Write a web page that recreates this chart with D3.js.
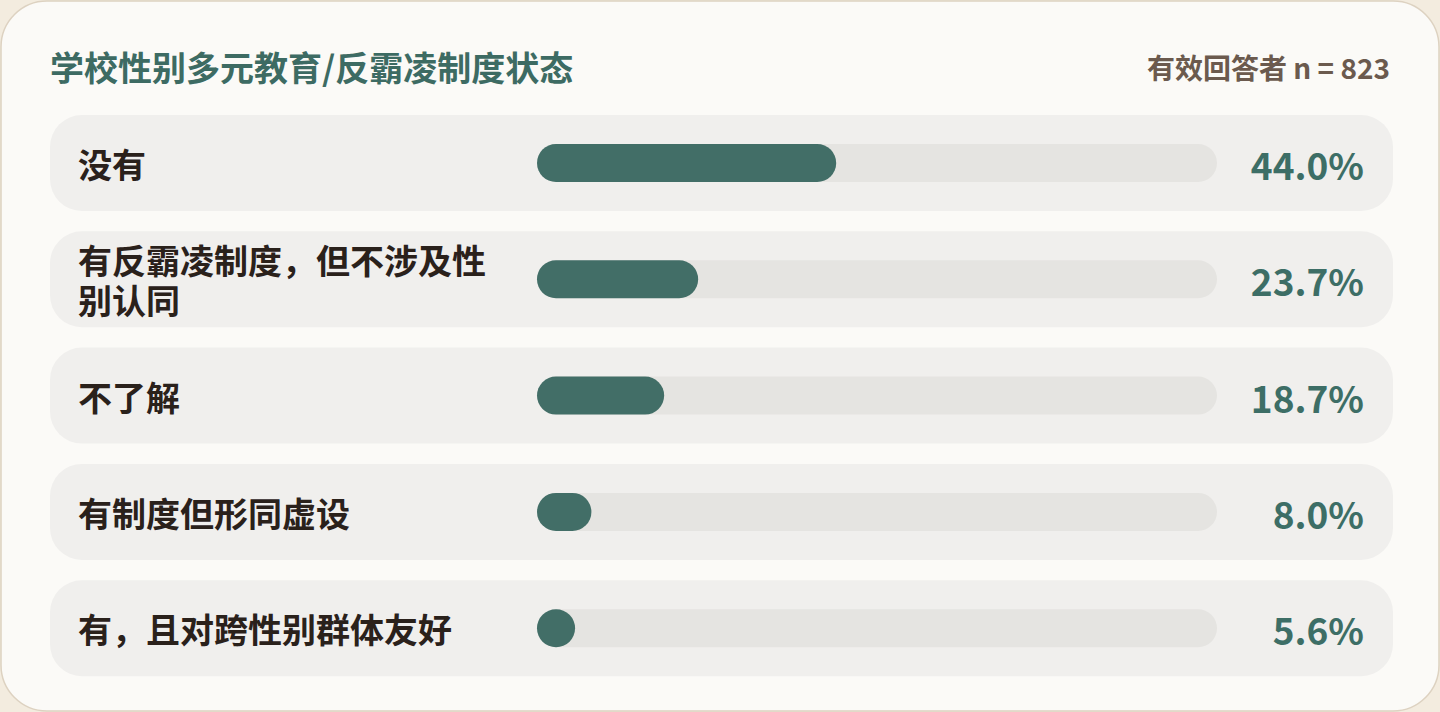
<!DOCTYPE html>
<html>
<head>
<meta charset="utf-8">
<script src="https://cdn.jsdelivr.net/npm/d3@7"></script>
<style>
  html, body { margin: 0; padding: 0; background: #f3ecdf; }
  svg { display: block; }
  text { font-family: "Noto Sans CJK SC", "Noto Sans", sans-serif; font-weight: 700; }
</style>
</head>
<body>
<svg id="chart"></svg>
<script>
// ─── Data ─────────────────────────────────────────────────────────────────────
const title    = '学校性别多元教育/反霸凌制度状态';
const nLabel   = '有效回答者 n = 823';
const cats     = ['没有', '有反霸凌制度，但不涉及性别认同', '不了解', '有制度但形同虚设', '有，且对跨性别群体友好'];
const catLines = [['没有'], ['有反霸凌制度，但不涉及性', '别认同'], ['不了解'], ['有制度但形同虚设'], ['有，且对跨性别群体友好']];
const values   = [44.0, 23.7, 18.7, 8.0, 5.6];

// ─── Layout ───────────────────────────────────────────────────────────────────
const W = 1440, H = 712;
const ROW_X = 50, ROW_W = 1343, ROW_H = 96;
const TRACK_X = 537, TRACK_W = 680, BAR_H = 38;

const svg = d3.select('#chart').attr('width', W).attr('height', H);

svg.append('rect')
  .attr('x', 1).attr('y', 1).attr('width', W - 2).attr('height', H - 2)
  .attr('rx', 46).attr('fill', '#fbfaf7')
  .attr('stroke', '#ddd2c1').attr('stroke-width', 1.5);

svg.append('text')
  .attr('x', 50).attr('y', 66).attr('dominant-baseline', 'central')
  .attr('font-size', 34).attr('fill', '#3d6b63').text(title);

svg.append('text')
  .attr('x', 1390).attr('y', 67).attr('dominant-baseline', 'central')
  .attr('text-anchor', 'end').attr('font-size', 28).attr('fill', '#6b5a4e')
  .text(nLabel);

const y = d3.scaleBand().domain(cats).range([115, 115 + 5 * ROW_H + 4 * 20.3]).paddingInner(20.3 / 116.3);
const x = d3.scaleLinear().domain([0, 100]).range([0, TRACK_W]);

const rows = svg.selectAll('.row').data(cats).join('g')
  .attr('class', 'row')
  .attr('transform', d => `translate(0,${y(d)})`);

rows.append('rect')
  .attr('x', ROW_X).attr('width', ROW_W).attr('height', y.bandwidth())
  .attr('rx', 32).attr('fill', '#f0efed');

rows.append('rect')
  .attr('x', TRACK_X).attr('y', y.bandwidth() / 2 - BAR_H / 2)
  .attr('width', TRACK_W).attr('height', BAR_H)
  .attr('rx', BAR_H / 2).attr('fill', '#e5e4e1');

rows.append('rect')
  .attr('x', TRACK_X).attr('y', y.bandwidth() / 2 - BAR_H / 2)
  .attr('width', (d, i) => Math.max(BAR_H, x(values[i])))
  .attr('height', BAR_H)
  .attr('rx', BAR_H / 2).attr('fill', '#426e67');

// ── Labels ────────────────────────────────────────────────────────────────
const LINE_H = 40;
rows.append('text')
  .attr('font-size', 34).attr('fill', '#2a211b')
  .attr('dominant-baseline', 'central')
  .each(function(d, i) {
    const lines = catLines[i];
    const top = y.bandwidth() / 2 - (lines.length - 1) * LINE_H / 2;
    d3.select(this).selectAll('tspan').data(lines).join('tspan')
      .attr('x', 78).attr('y', (l, j) => top + j * LINE_H)
      .text(l => l);
  });

rows.append('text')
  .attr('x', 1364).attr('y', y.bandwidth() / 2 + 1)
  .attr('dominant-baseline', 'central').attr('text-anchor', 'end')
  .attr('font-size', 37).attr('fill', '#3d6e66')
  .text((d, i) => values[i].toFixed(1) + '%');
</script>
</body>
</html>
